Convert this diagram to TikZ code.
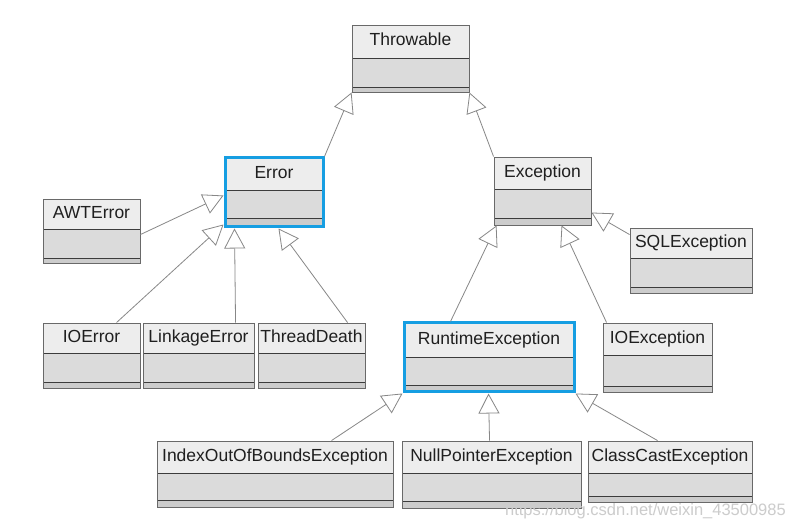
\documentclass[tikz,border=0pt]{standalone}
\usepackage{fontspec}
\setmainfont{Liberation Sans}
\usetikzlibrary{arrows.meta,fit,calc}
\definecolor{hlblue}{RGB}{22,158,226}
\definecolor{boxedge}{RGB}{105,105,105}
\definecolor{sepcol}{RGB}{60,60,60}
\definecolor{linkcol}{RGB}{135,135,135}
\tikzset{
  titlefill/.style={fill=gray!14},
  midfill/.style={fill=gray!28},
  botfill/.style={fill=gray!40},
  sepline/.style={draw=sepcol,line width=0.9pt},
  classbox/.style={draw=boxedge,line width=0.9pt,inner sep=0pt,fill=none},
  hlbox/.style={draw=hlblue,line width=3pt},
  classtext/.style={font=\fontsize{17.5}{20}\selectfont,text=black!88,inner sep=0pt,text height=12.6pt,text depth=3.6pt},
  inherit/.style={draw=linkcol,line width=0.8pt,-{Triangle[open,length=20pt,width=21pt,line width=0.8pt]}},
}
\newcommand\umlclass[9]{%
  \fill[titlefill] (#2,#3) rectangle (#4,#5);
  \fill[midfill] (#2,#5) rectangle (#4,#6);
  \fill[botfill] (#2,#6) rectangle (#4,#7);
  \draw[sepline] (#2,#5) -- (#4,#5);
  \draw[sepline] (#2,#6) -- (#4,#6);
  \node[classbox,#9,fit={(#2,#3) (#4,#7)}] (#1) {};
  \node[classtext] (#1-t) at ({(#2+#4)/2},{(#3+#5)/2}) {#8};
}
\begin{document}
\begin{tikzpicture}[x=1pt,y=-1pt]
\fill[white] (0,0) rectangle (788,529);
\useasboundingbox (0,0) rectangle (788,529);
\umlclass{thr}{352}{25}{469}{58}{87}{92}{Throwable}{}
\umlclass{err}{225}{158}{323}{190}{218}{227}{Error}{hlbox}
\umlclass{awt}{43}{199}{140}{229}{258}{263}{AWTError}{}
\umlclass{exc}{494}{157}{591}{189}{218}{225}{Exception}{}
\umlclass{sql}{630}{228}{752}{258}{287}{293}{SQLException}{}
\umlclass{ioe}{43}{323}{140}{353}{382}{388}{IOError}{}
\umlclass{lnk}{143}{323}{254}{353}{382}{388}{LinkageError}{}
\umlclass{thd}{258}{323}{365}{353}{382}{388}{ThreadDeath}{}
\umlclass{rte}{404}{323}{574}{357}{385}{392}{RuntimeException}{hlbox}
\umlclass{ioex}{603}{323}{712}{355}{386}{392}{IOException}{}
\umlclass{idx}{157}{441}{393}{473}{500}{507}{IndexOutOfBoundsException}{}
\umlclass{npe}{402}{441}{581}{473}{501}{508}{NullPointerException}{}
\umlclass{cce}{588}{441}{752}{473}{496}{502}{ClassCastException}{}
% inheritance connectors
\draw[inherit] (err.north east) -- (thr.south west);
\draw[inherit] (exc.north west) -- (thr.south east);
\draw[inherit] ($(awt.north east)+(0,36)$) -- ($(err.north west)+(0,39)$);
\draw[inherit] ($(ioe.north west)+(74,0)$) -- ($(err.south west)+(0,-4)$);
\draw[inherit] ($(lnk.north west)+(93,0)$) -- ($(err.south west)+(11,0)$);
\draw[inherit] ($(thd.north west)+(90,0)$) -- ($(err.south west)+(55,0)$);
\draw[inherit] ($(rte.north west)+(48,0)$) -- ($(exc.south west)+(3,0)$);
\draw[inherit] ($(ioex.north west)+(4,0)$) -- ($(exc.south west)+(68,0)$);
\draw[inherit] ($(sql.north west)+(0,7)$) -- ($(exc.north east)+(0,56)$);
\draw[inherit] ($(idx.north west)+(175,0)$) -- (rte.south west);
\draw[inherit] ($(npe.north west)+(88,0)$) -- ($(rte.south west)+(86,0)$);
\draw[inherit] ($(cce.north west)+(70,0)$) -- (rte.south east);
% watermark
\node[font=\fontsize{16.5}{19}\selectfont,text=gray!40,anchor=east,inner sep=0pt] (wm) at (786,511) {https://blog.csdn.net/weixin\_43500985};
\end{tikzpicture}
\end{document}
